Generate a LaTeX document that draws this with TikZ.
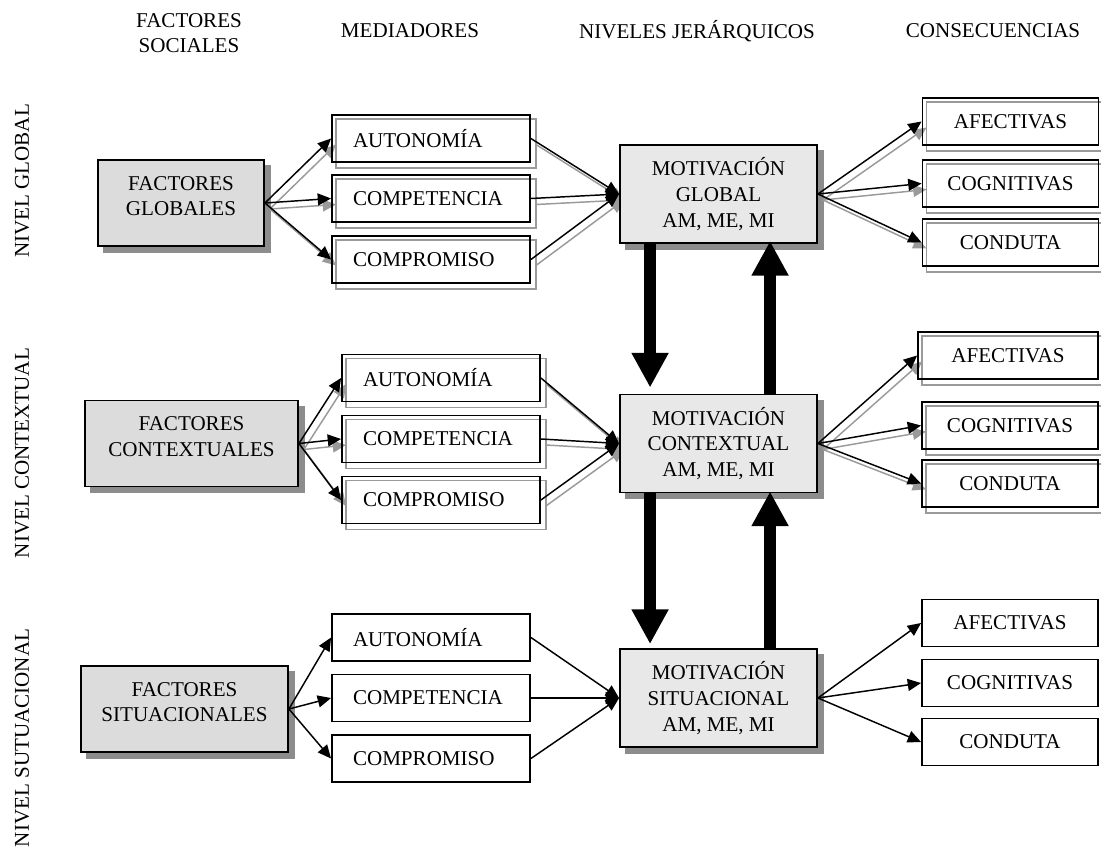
\documentclass[tikz,border=0pt]{standalone}
\usepackage{fontspec}
\setmainfont{Liberation Serif}
\usetikzlibrary{arrows.meta,calc}
\pgfdeclarelayer{background}
\pgfsetlayers{background,main}
\definecolor{factfill}{HTML}{DCDCDC}
\definecolor{motfill}{HTML}{E8E8E8}
\definecolor{shadegray}{HTML}{8C8C8C}
\definecolor{ghostgray}{HTML}{9A9A9A}
\tikzset{
  every node/.style={font=\fontsize{15.8}{19.2}\selectfont},
  box/.style={draw, line width=1.4pt, inner sep=0pt, align=center},
  factor/.style={box, fill=factfill, minimum height=64.5pt},
  medbox/.style={box, minimum height=35.25pt, text width=117pt, align=left, inner xsep=15.75pt},
  consbox/.style={box, minimum width=132pt, minimum height=35.25pt},
  motbox/.style={box, fill=motfill, minimum width=147.75pt, minimum height=73.5pt},
  label/.style={align=center},
  conn/.style={line width=1.1pt, -{Triangle[length=10pt,width=9pt]}},
  ghostconn/.style={conn, draw=ghostgray, fill=ghostgray},
  ghostbox/.style={draw=ghostgray, line width=1pt},
  shadowfill/.style={fill=shadegray},
  bigarrow/.style={line width=9pt, -{Triangle[length=26pt,width=26pt]}}
}
% two-line factor text, set a little above the box centre
\newcommand{\factortext}[2]{#1\\#2\\[-9pt]\mbox{}}
\begin{document}
\begin{tikzpicture}[x=0.75pt,y=-0.75pt]
\useasboundingbox (0,0) rectangle (1101,850);

% column headings
\node[label] (hfs) at (189,33) {FACTORES\\SOCIALES};
\node[label] (hmed) at (410,31) {MEDIADORES};
\node[label] (hniv) at (697,31) {NIVELES JERÁRQUICOS};
\node[label] (hcons) at (993,31) {CONSECUENCIAS};

% level labels
\node[rotate=90] (lglob) at (22,181) {NIVEL GLOBAL};
\node[rotate=90] (lcont) at (22,453) {NIVEL CONTEXTUAL};
\node[rotate=90] (lsit) at (22,738) {NIVEL SUTUACIONAL};

% global level
\node[factor, minimum width=124.5pt] (f1) at (181,203) {\factortext{FACTORES}{GLOBALES}};
\node[medbox] (m11) at (431,138.5) {AUTONOMÍA};
\node[medbox] (m12) at (431,198.5) {COMPETENCIA};
\node[medbox] (m13) at (431,259.5) {COMPROMISO};
\node[motbox] (g1) at (718.5,194) {MOTIVACIÓN\\GLOBAL\\AM, ME, MI};
\node[consbox] (c11) at (1010.5,121.5) {AFECTIVAS};
\node[consbox] (c12) at (1010.5,183.5) {COGNITIVAS};
\node[consbox] (c13) at (1010.5,242.5) {CONDUTA};

% contextual level
\node[factor, minimum width=159.75pt] (f2) at (191.5,443.5) {\factortext{FACTORES}{CONTEXTUALES}};
\node[medbox] (m21) at (441,378) {AUTONOMÍA};
\node[medbox] (m22) at (441,439) {COMPETENCIA};
\node[medbox] (m23) at (441,500) {COMPROMISO};
\node[motbox] (g2) at (718.5,443.5) {MOTIVACIÓN\\CONTEXTUAL\\AM, ME, MI};
\node[consbox, minimum width=135pt] (c21) at (1008,355.5) {AFECTIVAS};
\node[consbox] (c22) at (1010,425.5) {COGNITIVAS};
\node[consbox] (c23) at (1010,483.5) {CONDUTA};

% situational level
\node[factor, minimum width=155.25pt] (f3) at (184.5,709) {\factortext{FACTORES}{SITUACIONALES}};
\node[medbox] (m31) at (431,637.5) {AUTONOMÍA};
\node[medbox] (m32) at (431,698) {COMPETENCIA};
\node[medbox] (m33) at (431,758.5) {COMPROMISO};
\node[motbox] (g3) at (718.5,698) {MOTIVACIÓN\\SITUACIONAL\\AM, ME, MI};
\node[consbox] (c31) at (1010,623) {AFECTIVAS};
\node[consbox] (c32) at (1010,683) {COGNITIVAS};
\node[consbox] (c33) at (1010,742) {CONDUTA};

% shadows, offset outlines and offset connectors
\begin{pgfonlayer}{background}
  \foreach \n in {f1,f2,f3,g1,g2,g3}
    \fill[shadowfill] ([shift={(6,6)}]\n.north west) rectangle ([shift={(6,6)}]\n.south east);
  \foreach \n in {m11,m12,m13,c11,c12,c13,m21,m22,m23,c21,c22,c23}
    \draw[ghostbox] ([shift={(5,5)}]\n.north west) rectangle ([shift={(5,5)}]\n.south east);
  \foreach \r in {1,2} {
    \foreach \k in {1,2,3} {
      \draw[ghostconn] ([shift={(5,6)}]f\r.east) -- ([shift={(5,6)}]m\r\k.west);
      \draw[ghostconn] ([shift={(5,6)}]m\r\k.east) -- ([shift={(5,6)}]g\r.west);
      \draw[ghostconn] ([shift={(5,6)}]g\r.east) -- ([shift={(5,6)}]c\r\k.west);
    }
  }
\end{pgfonlayer}

% connectors
\foreach \r in {1,2,3} {
  \foreach \k in {1,2,3} {
    \draw[conn] (f\r.east) -- (m\r\k.west);
    \draw[conn] (m\r\k.east) -- (g\r.west);
    \draw[conn] (g\r.east) -- (c\r\k.west);
  }
}

% links between hierarchical levels
\draw[bigarrow] ([shift={(31,0)}]g1.south west) -- ([shift={(31,-6)}]g2.north west);
\draw[bigarrow] ([shift={(151,0)}]g2.north west) -- ([shift={(151,-3)}]g1.south west);
\draw[bigarrow] ([shift={(31,0)}]g2.south west) -- ([shift={(31,-4)}]g3.north west);
\draw[bigarrow] ([shift={(151,0)}]g3.north west) -- ([shift={(151,-2)}]g2.south west);
\end{tikzpicture}
\end{document}
